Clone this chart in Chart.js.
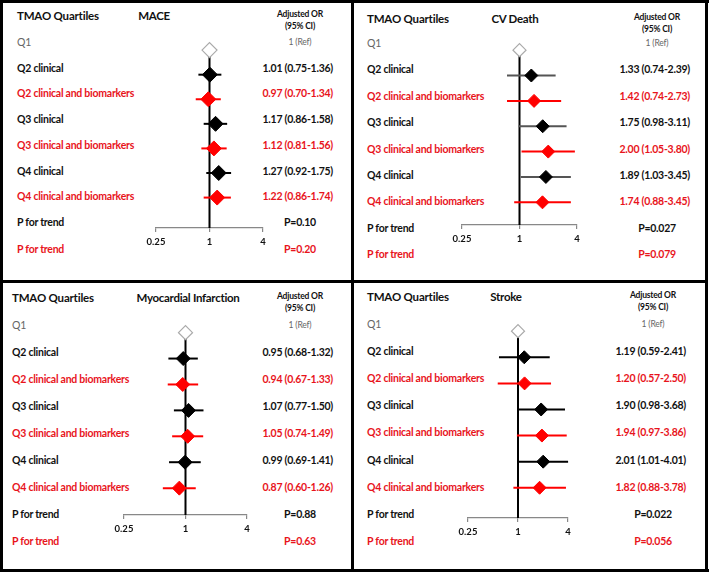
<!DOCTYPE html>
<html>
<head>
<meta charset="utf-8">
<script src="https://cdn.jsdelivr.net/npm/chart.js@4.4.1/dist/chart.umd.min.js"></script>
<style>
body { margin: 0; background: #fff; }
#fig { position: relative; width: 709px; height: 573px; overflow: hidden; font-family: Lato, "Open Sans", sans-serif; }
.t { position: absolute; white-space: nowrap; line-height: 1; transform: translateY(-50%); font-weight: bold;
     font-size: 10.5px; letter-spacing: -0.25px; color: #111; }
.right { transform: translate(-100%, -50%); }
.center { transform: translate(-50%, -50%); }
.red { color: #e8141c; }
.gray { color: #666; font-weight: normal; }
.head { font-size: 11.5px; letter-spacing: -0.2px; }
.title { font-size: 11.5px; letter-spacing: -0.3px; }
.small { font-size: 8.5px; letter-spacing: -0.2px; }
.bar { position: absolute; background: #000; }
canvas { position: absolute; }
</style>
</head>
<body>
<div id="fig"></div>
<script>
// Données
const rowLabels = ['Q1', 'Q2 clinical', 'Q2 clinical and biomarkers', 'Q3 clinical',
  'Q3 clinical and biomarkers', 'Q4 clinical', 'Q4 clinical and biomarkers'];
const panelTitles = ['MACE', 'CV Death', 'Myocardial Infarction', 'Stroke'];

const maceOR = [1, 1.01, 0.97, 1.17, 1.12, 1.27, 1.22];
const maceLow = [null, 0.75, 0.70, 0.86, 0.81, 0.92, 0.86];
const maceHigh = [null, 1.36, 1.34, 1.58, 1.56, 1.75, 1.74];
const maceP = ['P=0.10', 'P=0.20'];

const cvDeathOR = [1, 1.33, 1.42, 1.75, 2.00, 1.89, 1.74];
const cvDeathLow = [null, 0.74, 0.74, 0.98, 1.05, 1.03, 0.88];
const cvDeathHigh = [null, 2.39, 2.73, 3.11, 3.80, 3.45, 3.45];
const cvDeathP = ['P=0.027', 'P=0.079'];

const miOR = [1, 0.95, 0.94, 1.07, 1.05, 0.99, 0.87];
const miLow = [null, 0.68, 0.67, 0.77, 0.74, 0.69, 0.60];
const miHigh = [null, 1.32, 1.33, 1.50, 1.49, 1.41, 1.26];
const miP = ['P=0.88', 'P=0.63'];

const strokeOR = [1, 1.19, 1.20, 1.90, 1.94, 2.01, 1.82];
const strokeLow = [null, 0.59, 0.57, 0.98, 0.97, 1.01, 0.88];
const strokeHigh = [null, 2.41, 2.50, 3.68, 3.86, 4.01, 3.78];
const strokeP = ['P=0.022', 'P=0.056'];

const tickValues = [0.25, 1, 4];
const tickLabels = ['0.25', '1', '4'];

const RED = '#ff0000';
const fig = document.getElementById('fig');

// Mise en page de chaque panneau (pixels)
const panels = [
  { title: panelTitles[0], or: maceOR, lo: maceLow, hi: maceHigh, p: maceP,
    left: 17, right: 333, head: 16, titleX: 154, orX: 300, orY: 14,
    q1: 42, rowH: 25.7, pRed: 249, axisY: 228, x0: 156, x1: 263, r: 7.5, ci: '#000' },
  { title: panelTitles[1], or: cvDeathOR, lo: cvDeathLow, hi: cvDeathHigh, p: cvDeathP,
    left: 367, right: 690, head: 19, titleX: 515, orX: 657, orY: 17,
    q1: 43, rowH: 26.4, pRed: 254, axisY: 225, x0: 462, x1: 577, r: 6.5, ci: '#555' },
  { title: panelTitles[2], or: miOR, lo: miLow, hi: miHigh, p: miP,
    left: 12, right: 333, head: 298, titleX: 188, orX: 300, orY: 296,
    q1: 325, rowH: 27, pRed: 541, axisY: 515, x0: 124, x1: 247, r: 7, ci: '#000' },
  { title: panelTitles[3], or: strokeOR, lo: strokeLow, hi: strokeHigh, p: strokeP,
    left: 367, right: 686, head: 297, titleX: 506, orX: 653, orY: 295,
    q1: 324, rowH: 27.1, pRed: 541, axisY: 518, x0: 468, x1: 568, r: 6.5, ci: '#000' }
];

function addText(txt, x, y, cls) {
  const el = document.createElement('div');
  el.className = 't ' + (cls || '');
  el.textContent = txt;
  el.style.left = x + 'px';
  el.style.top = y + 'px';
  fig.appendChild(el);
}

function addBar(x, y, w, h) {
  const el = document.createElement('div');
  el.className = 'bar';
  el.style.left = x + 'px';
  el.style.top = y + 'px';
  el.style.width = w + 'px';
  el.style.height = h + 'px';
  fig.appendChild(el);
}

const fmt = v => v.toFixed(2);

panels.forEach(pn => {
  // Textes
  addText('TMAO Quartiles', pn.left, pn.head, 'head');
  addText(pn.title, pn.titleX, pn.head, 'center title');
  addText('Adjusted OR', pn.orX, pn.orY, 'center small');
  addText('(95% CI)', pn.orX, pn.orY + 12, 'center small');

  rowLabels.forEach((lab, i) => {
    const y = pn.q1 + i * pn.rowH;
    const cls = i === 0 ? 'gray' : (i % 2 === 0 ? 'red' : '');
    addText(lab, pn.left, y, cls);
    const val = i === 0 ? '1 (Ref)' : `${fmt(pn.or[i])} (${fmt(pn.lo[i])}-${fmt(pn.hi[i])})`;
    if (i === 0) addText(val, pn.orX, y, 'gray center small');
    else addText(val, pn.right, y, 'right ' + cls);
  });
  const pY = pn.q1 + 7 * pn.rowH;
  addText('P for trend', pn.left, pY, '');
  addText('P for trend', pn.left, pn.pRed, 'red');
  addText(pn.p[0], pn.orX, pY, 'center');
  addText(pn.p[1], pn.orX, pn.pRed, 'center red');

  // Graphique
  const pad = 20, topM = 14, axisH = 22;
  const canvas = document.createElement('canvas');
  const top = pn.q1 - topM;
  canvas.width = pn.x1 - pn.x0 + 2 * pad;
  canvas.height = pn.axisY - top + axisH;
  canvas.style.left = (pn.x0 - pad) + 'px';
  canvas.style.top = top + 'px';
  fig.appendChild(canvas);

  const yMax = (pn.axisY - pn.q1) / pn.rowH;
  const clinPts = [], bioPts = [];
  const ciSets = [];
  for (let i = 1; i < pn.or.length; i++) {
    const col = i % 2 === 0 ? RED : pn.ci;
    (i % 2 === 0 ? bioPts : clinPts).push({ x: pn.or[i], y: i });
    ciSets.push({
      data: [{ x: pn.lo[i], y: i }, { x: pn.hi[i], y: i }],
      showLine: true, borderColor: col, borderWidth: 2, pointRadius: 0, clip: false
    });
  }

  new Chart(canvas, {
    type: 'scatter',
    data: {
      datasets: [
        { data: [{ x: pn.or[0], y: 0 }], pointStyle: 'rectRot', pointRadius: pn.r,
          backgroundColor: '#fff', borderColor: '#aaa', borderWidth: 1.2, clip: false },
        { data: clinPts, pointStyle: 'rectRot', pointRadius: pn.r,
          backgroundColor: '#000', borderColor: '#000', borderWidth: 1, clip: false },
        { data: bioPts, pointStyle: 'rectRot', pointRadius: pn.r,
          backgroundColor: RED, borderColor: RED, borderWidth: 1, clip: false },
        ...ciSets,
        { data: [{ x: 1, y: 0 }, { x: 1, y: yMax }], showLine: true,
          borderColor: '#000', borderWidth: 2, pointRadius: 0, clip: false }
      ]
    },
    options: {
      responsive: false,
      animation: false,
      layout: { padding: { left: pad, right: pad, top: 0, bottom: 0 } },
      plugins: { legend: { display: false }, tooltip: { enabled: false } },
      scales: {
        x: {
          type: 'logarithmic', min: tickValues[0], max: tickValues[tickValues.length - 1],
          afterBuildTicks: s => { s.ticks = tickValues.map(v => ({ value: v })); },
          afterFit: s => { s.height = axisH; },
          ticks: {
            autoSkip: false, maxRotation: 0, padding: 4, color: '#111',
            font: { family: 'Lato', weight: 'bold', size: 9.5 },
            callback: v => tickLabels[tickValues.indexOf(v)]
          },
          grid: { drawOnChartArea: false, drawTicks: true, tickLength: 4, color: '#888', lineWidth: 1.2 },
          border: { display: true, color: '#888', width: 1.2 }
        },
        y: { type: 'linear', reverse: true, min: -topM / pn.rowH, max: yMax, display: false }
      }
    }
  });
});

// Cadres
addBar(0, 0, 709, 3);
addBar(0, 569, 709, 3);
addBar(0, 0, 3, 572);
addBar(705, 0, 3, 572);
addBar(351, 0, 3, 572);
addBar(0, 280, 708, 3);
</script>
</body>
</html>
